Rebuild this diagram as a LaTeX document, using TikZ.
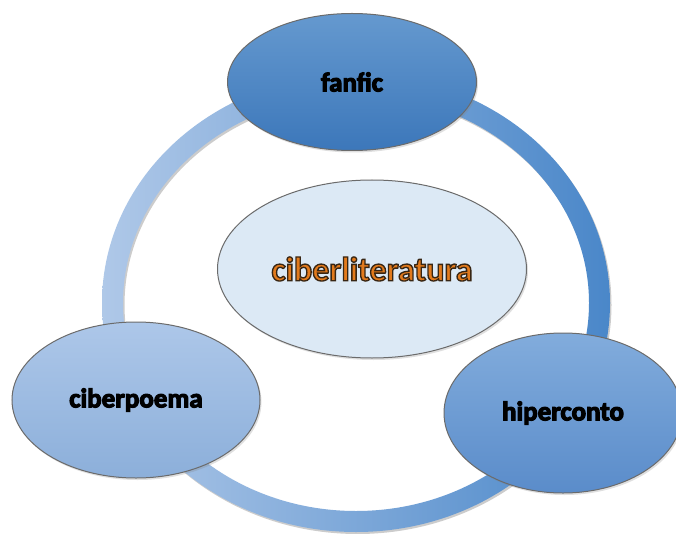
\documentclass[tikz,border=0pt]{standalone}
\usepackage{fontspec}
\setmainfont{Carlito}[BoldFeatures={FakeBold=4}]
\newfontfamily\cenfont{Carlito}[BoldFeatures={FakeBold=4}]
\usetikzlibrary{shadows,shapes.geometric}
\definecolor{ringlight}{HTML}{AFC8E8}
\definecolor{ringdark}{HTML}{4A87C9}
\definecolor{fantop}{HTML}{6599CF}
\definecolor{fanbot}{HTML}{3C77BA}
\definecolor{cenfill}{HTML}{DCE9F5}
\definecolor{poemtop}{HTML}{ADC7E9}
\definecolor{poembot}{HTML}{8CAFDA}
\definecolor{hiptop}{HTML}{82ACDC}
\definecolor{hipbot}{HTML}{5A8CCA}
\definecolor{edge}{HTML}{6B6B6B}
\definecolor{txtorange}{HTML}{E27A1C}
\tikzset{
  bub/.style={ellipse, draw=edge, line width=1pt, inner sep=0pt,
    drop shadow={opacity=0.25, shadow xshift=1.5pt, shadow yshift=-2pt}},
  lbl/.style={font=\fontsize{27}{27}\selectfont\bfseries, text=black}
}
\begin{document}
\begin{tikzpicture}[x=1pt,y=-1pt]
\useasboundingbox (0,0) rectangle (676,534);
\fill[white] (0,0) rectangle (676,534);
\coordinate (c) at (356,303);
\coordinate (cs) at (357.5,305);
\fill[even odd rule, black, opacity=0.2]
  (cs) ellipse[x radius=254, y radius=229] (cs) ellipse[x radius=233, y radius=208];
\shade[even odd rule, left color=ringlight, right color=ringdark]
  (c) ellipse[x radius=254, y radius=229] (c) ellipse[x radius=233, y radius=208];
\node[bub, fill=cenfill, minimum width=309, minimum height=178,
  font=\cenfont\fontsize{34}{34}\selectfont\bfseries]
  (cen) at (372,269)
  {\textcolor{txtorange}{\special{pdf:literal direct 0.22 0.15 0.08 RG}ciberliteratura}};
\node[bub, lbl, top color=fantop, bottom color=fanbot, minimum width=249, minimum height=137] (fanfic) at (352,82) {fanfic};
\node[bub, lbl, top color=poemtop, bottom color=poembot, minimum width=248, minimum height=156] (poema) at (136,400) {ciberpoema};
\node[bub, lbl, top color=hiptop, bottom color=hipbot, minimum width=238, minimum height=160] (hiper) at (563,413) {hiperconto};
\end{tikzpicture}
\end{document}
